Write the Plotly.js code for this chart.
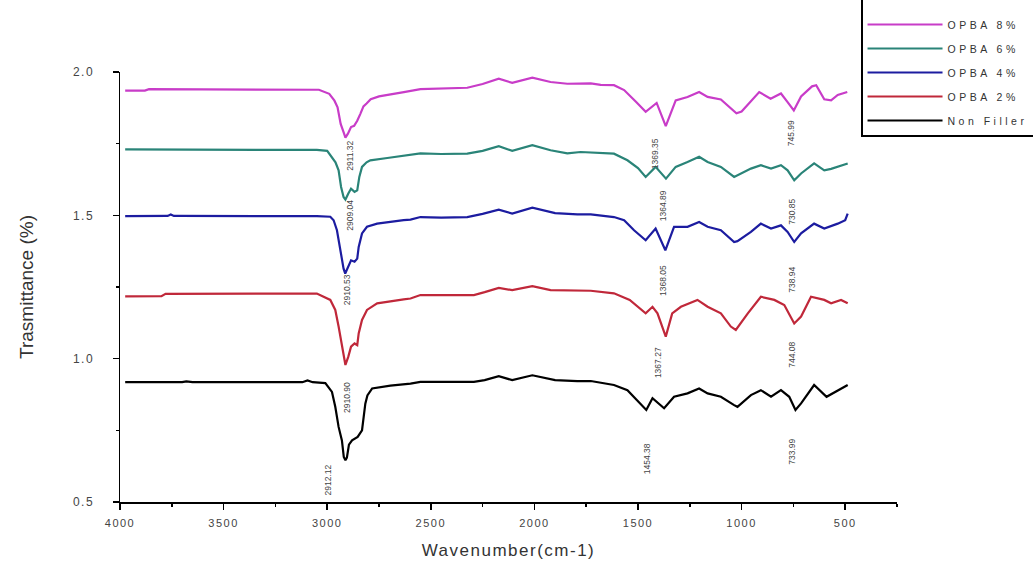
<!DOCTYPE html>
<html>
<head>
<meta charset="utf-8">
<script src="https://cdn.plot.ly/plotly-3.0.1.min.js"></script>
<style>
html,body{margin:0;padding:0;background:#fff;}
#chart{width:1033px;height:565px;}
.legendtext{letter-spacing:3.5px;}
.xtick text{letter-spacing:1.5px;}
.ytick text{letter-spacing:1.5px;}
.g-xtitle text{letter-spacing:1.5px;}
</style>
</head>
<body>
<div id="chart"></div>
<script>
// Series names (legend order top to bottom)
var seriesNames = ['OPBA 8%', 'OPBA 6%', 'OPBA 4%', 'OPBA 2%', 'Non Filler'];

// OPBA 8%
var wn8 = [3975,3880,3860,3600,3300,3100,3040,2990,2965,2950,2935,2921,2912,2900,2885,2870,2855,2840,2825,2810,2790,2750,2700,2630,2550,2450,2324,2250,2172,2107,2010,1922,1841,1728,1680,1616,1567,1510,1463,1410,1366,1318,1261,1205,1164,1100,1052,1025,1000,955,915,860,810,778,748,713,660,640,601,568,536,490];
var t8 = [1.935,1.935,1.940,1.940,1.940,1.940,1.938,1.924,1.900,1.877,1.819,1.790,1.771,1.785,1.808,1.812,1.830,1.854,1.880,1.890,1.905,1.915,1.922,1.930,1.940,1.942,1.945,1.958,1.977,1.962,1.980,1.965,1.959,1.960,1.955,1.954,1.937,1.896,1.861,1.892,1.811,1.901,1.913,1.930,1.913,1.904,1.875,1.856,1.862,1.900,1.930,1.907,1.925,1.895,1.866,1.915,1.950,1.954,1.905,1.901,1.920,1.930];

// OPBA 6%
var wn6 = [3975,3300,3050,3000,2977,2960,2945,2933,2921,2912,2898,2885,2868,2855,2845,2832,2810,2792,2710,2598,2550,2450,2324,2250,2172,2107,2010,1922,1841,1777,1680,1616,1551,1500,1463,1415,1365,1318,1261,1205,1164,1100,1036,1004,955,907,858,810,778,746,713,650,601,568,536,488];
var t6 = [1.730,1.730,1.728,1.725,1.704,1.685,1.657,1.599,1.564,1.555,1.576,1.593,1.582,1.587,1.634,1.669,1.685,1.692,1.700,1.713,1.716,1.714,1.715,1.725,1.741,1.725,1.745,1.727,1.716,1.721,1.716,1.715,1.692,1.665,1.634,1.669,1.628,1.669,1.686,1.704,1.686,1.669,1.634,1.645,1.663,1.675,1.663,1.675,1.657,1.622,1.646,1.681,1.657,1.662,1.669,1.681];

// OPBA 4%
var wn4 = [3975,3770,3755,3740,3720,3300,3050,2985,2969,2953,2940,2929,2921,2913,2898,2885,2868,2855,2848,2832,2808,2759,2631,2598,2550,2450,2324,2250,2172,2107,2010,1900,1793,1728,1616,1567,1519,1463,1415,1368,1326,1261,1205,1164,1100,1036,1020,955,907,858,810,778,746,713,650,601,536,500,488];
var t4 = [1.497,1.498,1.503,1.498,1.498,1.498,1.497,1.495,1.483,1.448,1.390,1.343,1.314,1.297,1.320,1.343,1.338,1.349,1.390,1.437,1.460,1.471,1.483,1.485,1.494,1.492,1.494,1.505,1.520,1.506,1.527,1.508,1.503,1.503,1.494,1.483,1.448,1.413,1.454,1.378,1.460,1.460,1.477,1.460,1.448,1.407,1.410,1.442,1.471,1.454,1.465,1.442,1.407,1.437,1.471,1.454,1.471,1.483,1.506];

// OPBA 2%
var wn2 = [3975,3800,3780,3300,3050,2985,2961,2945,2933,2921,2912,2898,2885,2868,2855,2848,2832,2808,2759,2631,2598,2550,2292,2240,2172,2107,2010,1922,1728,1616,1540,1463,1430,1406,1366,1335,1293,1213,1164,1100,1052,1028,970,907,842,794,746,713,665,601,568,520,488];
var t2 = [1.217,1.218,1.226,1.227,1.227,1.205,1.170,1.112,1.065,1.019,0.978,1.007,1.042,1.053,1.047,1.088,1.135,1.170,1.193,1.207,1.210,1.222,1.222,1.232,1.247,1.239,1.253,1.239,1.237,1.228,1.205,1.158,1.181,1.158,1.077,1.158,1.181,1.205,1.181,1.158,1.112,1.100,1.158,1.216,1.205,1.187,1.123,1.147,1.216,1.205,1.193,1.205,1.193];

// Non Filler
var wn0 = [3975,3700,3680,3650,3300,3120,3095,3070,3009,2977,2961,2945,2929,2920,2912,2905,2895,2880,2853,2832,2816,2806,2783,2727,2695,2598,2550,2292,2240,2172,2107,2010,1900,1793,1728,1616,1551,1460,1430,1374,1326,1261,1205,1164,1100,1036,1020,955,907,858,810,770,740,713,650,590,536,488];
var t0 = [0.918,0.918,0.921,0.918,0.918,0.918,0.924,0.918,0.915,0.884,0.832,0.762,0.715,0.657,0.646,0.655,0.700,0.715,0.727,0.750,0.843,0.872,0.896,0.904,0.906,0.913,0.919,0.919,0.925,0.939,0.925,0.942,0.925,0.922,0.922,0.908,0.890,0.821,0.862,0.827,0.867,0.879,0.896,0.879,0.867,0.838,0.832,0.873,0.890,0.867,0.890,0.867,0.821,0.844,0.908,0.867,0.890,0.908];

// Peak labels
var peakLabels = ['2911.32','2909.04','2910.53','2910.90','2912.12','1369.35','1364.89','1368.05','1367.27','1454.38','745.99','730.85','738.94','744.08','733.99'];
var labelWn = [2888,2888,2904,2908,2995,1414,1380,1380,1400,1453,762,754,754,754,754];
var labelT = [1.709,1.500,1.239,0.864,0.576,1.716,1.535,1.274,0.987,0.652,1.786,1.511,1.274,1.012,0.674];

var xTickVals = [4000,3500,3000,2500,2000,1500,1000,500];
var yTickVals = [0.5,1.0,1.5,2.0];

var colors = ['#C83CC8', '#2A8478', '#1C1CA0', '#C0283A', '#000000'];
var xs = [wn8, wn6, wn4, wn2, wn0];
var ys = [t8, t6, t4, t2, t0];

var traces = [];
for (var i = 0; i < seriesNames.length; i++) {
  traces.push({
    x: xs[i], y: ys[i], type: 'scatter', mode: 'lines',
    name: seriesNames[i], legendgroup: 'g' + i,
    line: {color: colors[i], width: 2.2, shape: 'linear'}
  });
}

var annotations = [];
for (var j = 0; j < peakLabels.length; j++) {
  annotations.push({
    x: labelWn[j], y: labelT[j], xref: 'x', yref: 'y',
    text: peakLabels[j], showarrow: false, textangle: -90,
    font: {family: 'Arial, Liberation Sans, sans-serif', size: 8.5, color: '#444'}
  });
}

var layout = {
  width: 1033, height: 565,
  margin: {l: 120, r: 136, t: 72, b: 63, pad: 0, autoexpand: false},
  paper_bgcolor: '#fff', plot_bgcolor: '#fff',
  showlegend: true,
  legend: {
    x: 0.9537, xanchor: 'left', y: 0.850, yanchor: 'bottom',
    bgcolor: '#fff', bordercolor: '#000', borderwidth: 1.5,
    font: {family: 'Arial, Liberation Sans, sans-serif', size: 10.5, color: '#333'},
    tracegroupgap: 5, itemwidth: 75, traceorder: 'grouped',
    title: {text: ' ', font: {size: 10}}
  },
  xaxis: {
    range: [4000, 250], showgrid: false, zeroline: false,
    showline: true, linecolor: '#000', linewidth: 1.5, mirror: false,
    ticks: 'outside', ticklen: 6, tickwidth: 1.5, tickcolor: '#000',
    tickvals: xTickVals, ticktext: xTickVals.map(String),
    minor: {dtick: 250, tick0: 0, ticks: 'outside', ticklen: 3, tickwidth: 1.5, tickcolor: '#000'},
    tickfont: {family: 'Arial, Liberation Sans, sans-serif', size: 11, color: '#444'},
    ticklabelstandoff: 4,
    title: {text: 'Wavenumber(cm-1)', font: {family: 'Arial, Liberation Sans, sans-serif', size: 17, color: '#333'}, standoff: 16}
  },
  yaxis: {
    range: [0.5, 2.0], showgrid: false, zeroline: false,
    showline: true, linecolor: '#000', linewidth: 1.5, mirror: false,
    ticks: 'outside', ticklen: 6, tickwidth: 1.5, tickcolor: '#000',
    tickvals: yTickVals, tickformat: '.1f',
    minor: {dtick: 0.25, tick0: 0.5, ticks: 'outside', ticklen: 3, tickwidth: 1.5, tickcolor: '#000'},
    tickfont: {family: 'Arial, Liberation Sans, sans-serif', size: 12, color: '#444'},
    ticklabelstandoff: 16,
    title: {text: 'Trasmittance (%)', font: {family: 'Arial, Liberation Sans, sans-serif', size: 19, color: '#333'}, standoff: 34}
  },
  annotations: annotations
};

Plotly.newPlot('chart', traces, layout, {staticPlot: true, displayModeBar: false});
</script>
</body>
</html>
